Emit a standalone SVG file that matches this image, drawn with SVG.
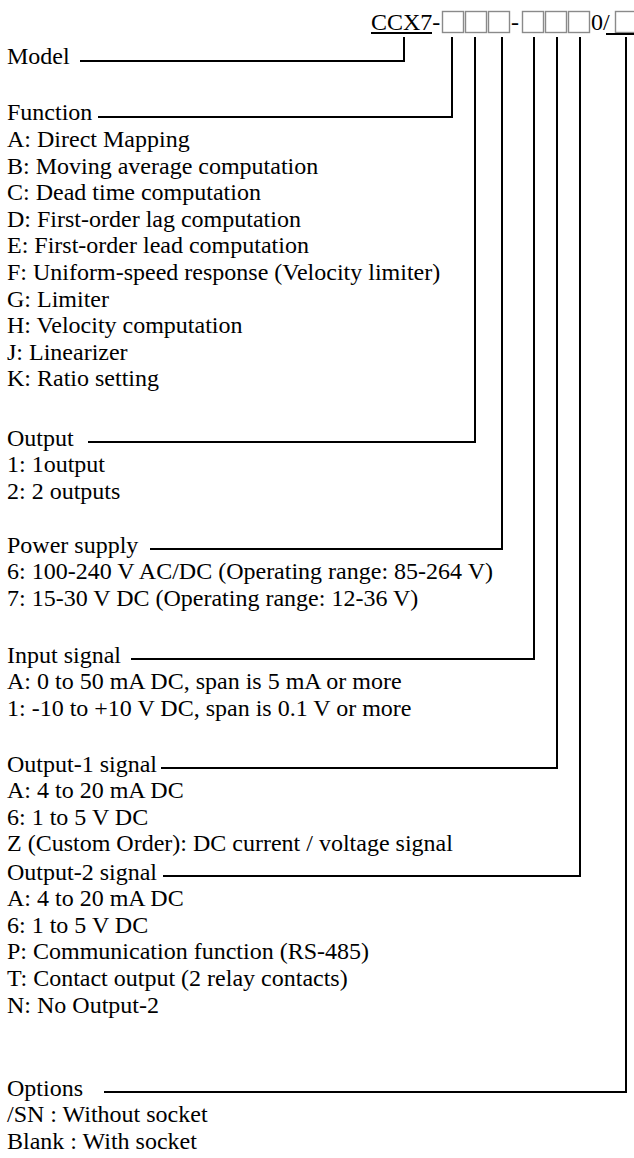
<svg xmlns="http://www.w3.org/2000/svg" width="634" height="1158" viewBox="0 0 634 1158">
<style>
text{font-family:"Liberation Serif","Times New Roman",serif;font-size:24px;fill:#000}
.bx{fill:#fff;stroke:#8a8a8a;stroke-width:1.4}
.ln{fill:none;stroke:#000;stroke-width:2}
</style>
<rect width="634" height="1158" fill="#fff"/>
<g id="header">
<text x="371" y="30">CCX7-</text>
<text x="511" y="30">-</text>
<text x="591" y="30">0/</text>
<rect class="bx" x="442.5" y="11.5" width="21" height="21"/>
<rect class="bx" x="465.5" y="11.5" width="21" height="21"/>
<rect class="bx" x="488.5" y="11.5" width="21" height="21"/>
<rect class="bx" x="522.5" y="11.5" width="21" height="21"/>
<rect class="bx" x="545.5" y="11.5" width="21" height="21"/>
<rect class="bx" x="568.5" y="11.5" width="21" height="21"/>
<rect class="bx" x="615.5" y="11.5" width="21" height="21"/>
<line class="ln" x1="371" y1="33" x2="432" y2="33" stroke-width="1.5"/>
<line class="ln" x1="606" y1="34" x2="634" y2="34" stroke-width="1.5"/>
</g>
<g id="model"><text x="7" y="64">Model</text></g>
<g id="function">
<text x="7" y="120">Function</text>
<text x="7" y="147">A: Direct Mapping</text>
<text x="7" y="173.6">B: Moving average computation</text>
<text x="7" y="200.2">C: Dead time computation</text>
<text x="7" y="226.8">D: First-order lag computation</text>
<text x="7" y="253.4">E: First-order lead computation</text>
<text x="7" y="280">F: Uniform-speed response (Velocity limiter)</text>
<text x="7" y="306.6">G: Limiter</text>
<text x="7" y="333.2">H: Velocity computation</text>
<text x="7" y="359.8">J: Linearizer</text>
<text x="7" y="386.4">K: Ratio setting</text>
</g>
<g id="output">
<text x="7" y="445.5">Output</text>
<text x="7" y="472.1">1: 1output</text>
<text x="7" y="498.7">2: 2 outputs</text>
</g>
<g id="power">
<text x="7" y="552.5">Power supply</text>
<text x="7" y="579.1">6: 100-240 V AC/DC (Operating range: 85-264 V)</text>
<text x="7" y="605.7">7: 15-30 V DC (Operating range: 12-36 V)</text>
</g>
<g id="input">
<text x="7" y="662.5">Input signal</text>
<text x="7" y="689.1">A: 0 to 50 mA DC, span is 5 mA or more</text>
<text x="7" y="715.7">1: -10 to +10 V DC, span is 0.1 V or more</text>
</g>
<g id="output1">
<text x="7" y="771.5">Output-1 signal</text>
<text x="7" y="798.1">A: 4 to 20 mA DC</text>
<text x="7" y="824.7">6: 1 to 5 V DC</text>
<text x="7" y="851.3">Z (Custom Order): DC current / voltage signal</text>
</g>
<g id="output2">
<text x="7" y="879.5">Output-2 signal</text>
<text x="7" y="906.1">A: 4 to 20 mA DC</text>
<text x="7" y="932.7">6: 1 to 5 V DC</text>
<text x="7" y="959.3">P: Communication function (RS-485)</text>
<text x="7" y="985.9">T: Contact output (2 relay contacts)</text>
<text x="7" y="1012.5">N: No Output-2</text>
</g>
<g id="options">
<text x="7" y="1095.5">Options</text>
<text x="7" y="1122.1">/SN : Without socket</text>
<text x="7" y="1148.7">Blank : With socket</text>
</g>
<g id="connectors">
<path class="ln" d="M80,61 H404 V37"/>
<path class="ln" d="M98,117 H452 V37"/>
<path class="ln" d="M88,442 H475 V37"/>
<path class="ln" d="M150,549 H502 V37"/>
<path class="ln" d="M131,659 H534 V37"/>
<path class="ln" d="M161,768 H557 V37"/>
<path class="ln" d="M163,876 H580 V37"/>
<path class="ln" d="M104,1092 H626 V37"/>
</g>
</svg>
